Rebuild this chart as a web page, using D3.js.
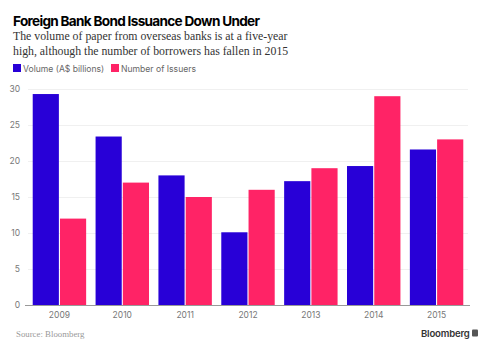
<html>
<head>
	<style type="text/css">
		body { margin: 0; background: white; }
		.title { font-family: Inter, "Liberation Sans", sans-serif; font-weight: 700; font-size: 13.6px; letter-spacing: -0.7px; fill: #000; }
		.subtitle { font-family: "Liberation Serif", "DejaVu Serif", serif; font-size: 11.8px; fill: #333; }
		.legend text { font-family: Inter, "Liberation Sans", sans-serif; font-size: 8.6px; fill: #666; }
		.axis text { font-family: Inter, "Liberation Sans", sans-serif; font-size: 8.5px; fill: #777; }
		.grid line { stroke: #f0f0f0; stroke-width: 1; }
		.source { font-family: "Liberation Serif", serif; font-size: 8.8px; fill: #999; }
		.logo { font-family: Inter, "Liberation Sans", sans-serif; font-weight: 600; font-size: 9.6px; letter-spacing: -0.2px; fill: #333; }
	</style>
	<script src="https://d3js.org/d3.v7.min.js"></script>
</head>
<body>
<script type="text/javascript">
	var years = ['2009', '2010', '2011', '2012', '2013', '2014', '2015'];
	var volume = [29.3, 23.4, 18.0, 10.1, 17.2, 19.3, 21.6];
	var issuers = [12, 17, 15, 16, 19, 29, 23];
	var series_names = ['Volume (A$ billions)', 'Number of Issuers'];
	var y_ticks = [0, 5, 10, 15, 20, 25, 30];

	var colors = ['#2800d7', '#ff2366'];
	var width = 488, height = 352;

	var svg = d3.select('body').append('svg')
		.attr('width', width)
		.attr('height', height);

	svg.append('text').attr('class', 'title')
		.attr('x', 13).attr('y', 26)
		.text('Foreign Bank Bond Issuance Down Under');

	svg.append('text').attr('class', 'subtitle')
		.attr('x', 13).attr('y', 40)
		.text('The volume of paper from overseas banks is at a five-year');
	svg.append('text').attr('class', 'subtitle')
		.attr('x', 13).attr('y', 54.5)
		.text('high, although the number of borrowers has fallen in 2015');

	// legend
	var legend = svg.append('g').attr('class', 'legend');
	var legend_x = [13, 111];
	series_names.forEach(function(name, i) {
		legend.append('rect')
			.attr('x', legend_x[i]).attr('y', 64)
			.attr('width', 8).attr('height', 8)
			.attr('fill', colors[i]);
		legend.append('text')
			.attr('x', legend_x[i] + 10).attr('y', 71.5)
			.text(name);
	});

	var x = d3.scaleBand()
		.domain(years)
		.range([28, 468])
		.paddingInner(0.15)
		.paddingOuter(0.075);

	var x_inner = d3.scaleBand()
		.domain([0, 1])
		.range([0, x.bandwidth()])
		.paddingInner(0.04);

	var y = d3.scaleLinear()
		.domain([0, 30])
		.range([305, 89]);

	// gridlines
	svg.append('g').attr('class', 'grid')
		.selectAll('line')
		.data(y_ticks.slice(1))
		.enter()
		.append('line')
			.attr('x1', 28).attr('x2', 468)
			.attr('y1', function(d) { return y(d) + 0.5; })
			.attr('y2', function(d) { return y(d) + 0.5; });

	var rows = years.map(function(yr, i) { return { year: yr, values: [volume[i], issuers[i]] }; });

	var groups = svg.append('g')
		.selectAll('g')
		.data(rows)
		.enter()
		.append('g')
			.attr('transform', function(d) { return 'translate(' + x(d.year) + ',0)'; });

	groups.selectAll('rect')
		.data(function(d) { return d.values; })
		.enter()
		.append('rect')
			.attr('x', function(d, i) { return x_inner(i); })
			.attr('width', x_inner.bandwidth())
			.attr('y', function(d) { return y(d); })
			.attr('height', function(d) { return y(0) - y(d); })
			.attr('fill', function(d, i) { return colors[i]; });

	// y axis
	var y_axis = svg.append('g')
		.attr('class', 'axis')
		.attr('transform', 'translate(20, 0)')
		.call(d3.axisLeft(y).tickValues(y_ticks).tickSize(0).tickPadding(0));
	y_axis.select('.domain').remove();
	y_axis.selectAll('text').attr('dy', '0.32em');

	// x axis
	var x_axis = svg.append('g')
		.attr('class', 'axis')
		.attr('transform', 'translate(0, 305)')
		.call(d3.axisBottom(x).tickSize(0).tickPadding(7));
	x_axis.select('.domain').attr('stroke', '#999').attr('d', 'M25,0.5H470');

	svg.append('text').attr('class', 'source')
		.attr('x', 16).attr('y', 337)
		.text('Source: Bloomberg');

	svg.append('text').attr('class', 'logo')
		.attr('x', 421).attr('y', 337)
		.text('Bloomberg');
	svg.append('rect')
		.attr('x', 472).attr('y', 329.5).attr('width', 6).attr('height', 7)
		.attr('rx', 1).attr('fill', '#555');
</script>
</body>
</html>
